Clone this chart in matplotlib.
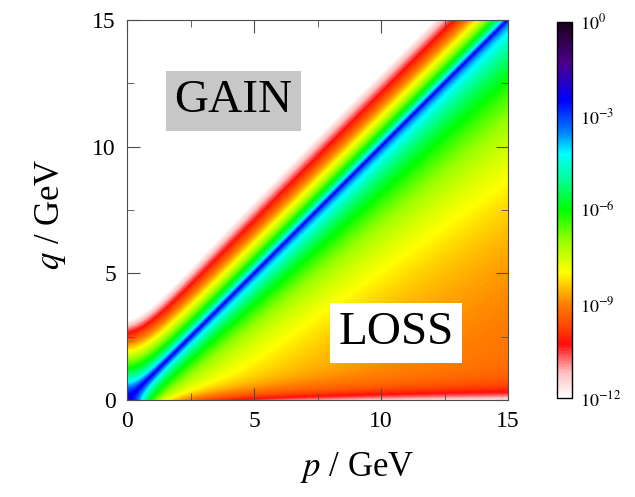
import numpy as np
import matplotlib
matplotlib.use('Agg')
import matplotlib.pyplot as plt
from matplotlib.colors import LinearSegmentedColormap, LogNorm

plt.rcParams['font.family'] = 'serif'
plt.rcParams['font.serif'] = ['Liberation Serif', 'DejaVu Serif']
plt.rcParams['mathtext.fontset'] = 'stix'

# axes
p_lim = [0, 15]
q_lim = [0, 15]
major_ticks = [0, 5, 10, 15]
minor_ticks = [2.5, 7.5, 12.5]

# colour bar
cbar_ticks = [1e-12, 1e-9, 1e-6, 1e-3, 1e0]
cbar_labels = [r'$10^{-12}$', r'$10^{-9}$', r'$10^{-6}$', r'$10^{-3}$', r'$10^{0}$']

# palette: log10(rate) -> colour
palette_levels = [-12, -11.2, -10.3, -9.8, -9, -8, -7, -6, -5, -4.2, -3.5, -2.5, -1.3, 0]
palette_colors = [(1, 1, 1), (1, 0.75, 0.75), (1, 0.05, 0.05), (1, 0.25, 0), (1, 0.5, 0),
                  (1, 1, 0), (0.6, 1, 0), (0, 1, 0), (0, 1, 0.6), (0, 1, 1),
                  (0, 0.5, 1), (0, 0, 1), (0.3, 0, 0.55), (0.1, 0, 0.1)]

# transition kernel parameters (GeV)
mass = 1.3
peak_log = -2.7
peak_boost, peak_width = 0.4, 0.15
w0 = 0.1
a_loss, t_max, h0 = 1.48, 3.4, 0.39
s_depth, q_s = 2.6, 0.38
a_gain, k_gain, c_gain = 3.0, 1.7, 0.4


def log_rate(p, q):
    Ep = np.sqrt(p**2 + mass**2)
    Eq = np.sqrt(q**2 + mass**2)
    w = Ep - Eq
    loss = np.clip(w, 0, None)
    gain = np.clip(-w, 0, None)
    h = loss / (loss + q + 1.0)
    L_loss = (-a_loss * np.log10(1 + loss / w0) - t_max * np.tanh(h / h0)
              - s_depth * np.exp(-q / q_s) * loss / (loss + 1))
    c = c_gain * np.exp(-p / 2)
    L_gain = -a_gain * np.log10(1 + gain / w0) - k_gain * gain - c * gain**2
    bump = peak_boost * np.exp(-(w / peak_width)**2)
    return peak_log + bump + L_loss + L_gain


pos = [(l - palette_levels[0]) / (palette_levels[-1] - palette_levels[0]) for l in palette_levels]
cmap = LinearSegmentedColormap.from_list('rate', list(zip(pos, palette_colors)))
cmap.set_under('white')

n = 500
p = np.linspace(p_lim[0], p_lim[1], n)
q = np.linspace(q_lim[0], q_lim[1], n)
P, Q = np.meshgrid(p, q)
rate = 10.0**log_rate(P, Q)

fig = plt.figure(figsize=(6.35, 4.97), dpi=100)
ax = fig.add_axes([0.2, 0.195, 0.6, 0.765])
im = ax.imshow(rate, origin='lower', extent=p_lim + q_lim, aspect='auto',
               cmap=cmap, norm=LogNorm(vmin=1e-12, vmax=1), interpolation='bilinear')

ax.set_xlim(p_lim)
ax.set_ylim(q_lim)
ax.set_xticks(major_ticks)
ax.set_yticks(major_ticks)
ax.set_xticks(minor_ticks, minor=True)
ax.set_yticks(minor_ticks, minor=True)
ax.tick_params(which='both', direction='in', top=True, right=True, labelsize=17, pad=8,
               color='0.3')
ax.tick_params(which='major', length=9)
ax.tick_params(which='minor', length=5)
for s in ax.spines.values():
    s.set_color('0.3')
ax.set_xlabel(r'$p$ / GeV', fontsize=25)
ax.set_ylabel(r'$q$ / GeV', fontsize=25)
ax.xaxis.set_label_coords(0.604, -0.13)
ax.yaxis.set_label_coords(-0.155, 0.49)

ax.text(4.2, 11.8, 'GAIN', fontsize=34, ha='center', va='center',
        bbox=dict(facecolor='0.78', edgecolor='none', pad=6))
ax.text(10.6, 2.65, 'LOSS', fontsize=34, ha='center', va='center',
        bbox=dict(facecolor='white', edgecolor='none', pad=6))

cax = fig.add_axes([0.877, 0.199, 0.024, 0.757])
cb = fig.colorbar(im, cax=cax, ticks=cbar_ticks)
cb.ax.minorticks_off()
cb.set_ticklabels(cbar_labels)
cb.ax.tick_params(length=0, labelsize=13, pad=6)
cb.outline.set_linewidth(1)

fig.savefig('out.png', dpi=100)
